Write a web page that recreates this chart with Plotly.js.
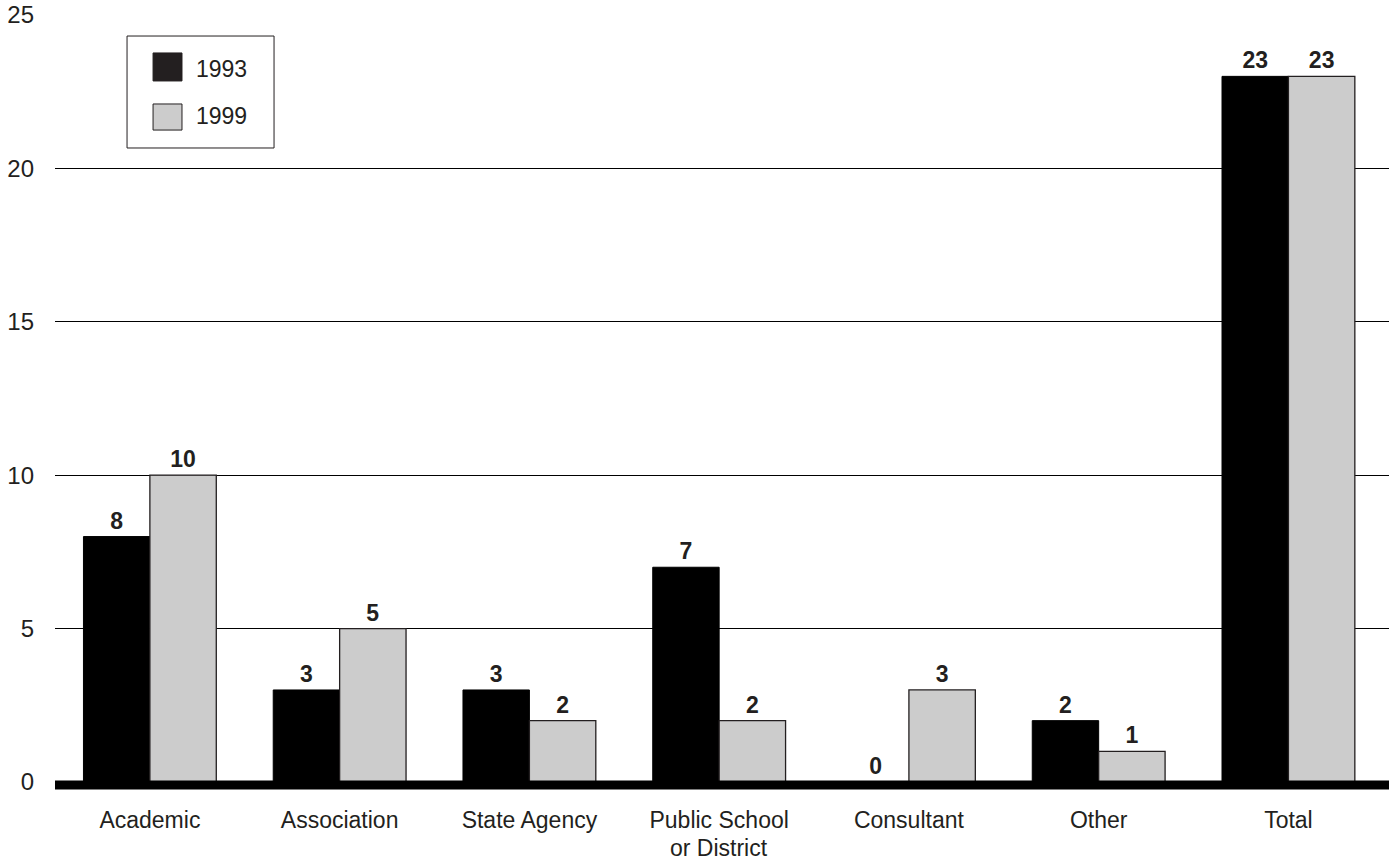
<!DOCTYPE html>
<html>
<head>
<meta charset="utf-8">
<script src="https://cdn.plot.ly/plotly-3.0.1.min.js"></script>
<style>html,body{margin:0;padding:0;background:#fff;}#chart{width:1389px;height:863px;}</style>
</head>
<body>
<div id="chart"></div>
<script>
const categories = ["Academic", "Association", "State Agency", "Public School<br>or District", "Consultant", "Other", "Total"];
const series1993 = [8, 3, 3, 7, 0, 2, 23];
const series1999 = [10, 5, 2, 2, 3, 1, 23];
const seriesNames = ["1993", "1999"];
const yTicks = [0, 5, 10, 15, 20, 25];

const FONT = "Arial, 'Liberation Sans', sans-serif";
const TXT = "#231f20";
const XFS = 23;

// first line of each category goes on the axis; further lines are set tighter below it
const tickFirstLines = categories.map(c => c.split("<br>")[0]);
const extraLineAnns = [];
categories.forEach(c => {
  const parts = c.split("<br>");
  parts.slice(1).forEach((p, k) => {
    extraLineAnns.push({
      xref: "x", yref: "paper", x: c, y: -0.0860 - k * 0.035, xanchor: "center", yanchor: "middle",
      borderpad: 0, text: p, showarrow: false, font: {family: FONT, size: XFS, color: TXT}
    });
  });
});

const traces = [
  {
    type: "bar", name: seriesNames[0], x: categories, y: series1993,
    marker: {color: "#000000", line: {color: "#000000", width: 1}},
    text: series1993.map(String), textposition: "outside", cliponaxis: false,
    textfont: {family: FONT, size: 23, color: TXT, weight: "bold"},
    showlegend: false, hoverinfo: "x+y"
  },
  {
    type: "bar", name: seriesNames[1], x: categories, y: series1999,
    marker: {color: "#cccccc", line: {color: "#231f20", width: 1.3}},
    text: series1999.map(String), textposition: "outside", cliponaxis: false,
    textfont: {family: FONT, size: 23, color: TXT, weight: "bold"},
    showlegend: false, hoverinfo: "x+y"
  }
];

const layout = {
  width: 1389, height: 863,
  margin: {l: 55, r: 0, t: 15, b: 81},
  paper_bgcolor: "#fff", plot_bgcolor: "#fff",
  barmode: "group", bargap: 0.3, bargroupgap: 0,
  font: {family: FONT, size: 24, color: TXT},
  xaxis: {
    type: "category", range: [-0.5, 6.53],
    tickvals: categories, ticktext: tickFirstLines,
    showgrid: false, zeroline: false, showline: false,
    ticks: "outside", ticklen: 0, tickcolor: "rgba(0,0,0,0)",
    ticklabelstandoff: 17,
    tickfont: {family: FONT, size: XFS, color: TXT}
  },
  yaxis: {
    range: [0, 25], tickvals: yTicks, ticktext: yTicks.map(String),
    showgrid: true, gridcolor: "#000", gridwidth: 1,
    zeroline: false, showline: false,
    ticks: "", ticklabelstandoff: 20,
    tickfont: {family: FONT, size: 24, color: TXT}
  },
  shapes: [
    {type: "line", xref: "paper", yref: "paper", x0: 0, x1: 1, y0: -0.004, y1: -0.004,
     line: {color: "#000", width: 9}, layer: "above"},
    {type: "rect", xref: "paper", yref: "paper", x0: 0.054, x1: 0.1642, y0: 0.8266, y1: 0.9726,
     line: {color: "#231f20", width: 1}, fillcolor: "#fff", layer: "above"},
    {type: "rect", xref: "paper", yref: "paper", x0: 0.0735, x1: 0.0952, y0: 0.914, y1: 0.9505,
     line: {color: "#231f20", width: 1}, fillcolor: "#231f20", layer: "above"},
    {type: "rect", xref: "paper", yref: "paper", x0: 0.0735, x1: 0.0952, y0: 0.850, y1: 0.884,
     line: {color: "#231f20", width: 1}, fillcolor: "#cccccc", layer: "above"}
  ],
  annotations: [
    {xref: "paper", yref: "paper", x: 0.1045, y: 0.9296, xanchor: "left", yanchor: "middle",
     text: seriesNames[0], showarrow: false, font: {family: FONT, size: 23, color: TXT}},
    {xref: "paper", yref: "paper", x: 0.1045, y: 0.8683, xanchor: "left", yanchor: "middle",
     text: seriesNames[1], showarrow: false, font: {family: FONT, size: 23, color: TXT}}
  ].concat(extraLineAnns)
};

Plotly.newPlot("chart", traces, layout, {displayModeBar: false, staticPlot: true});
</script>
</body>
</html>
